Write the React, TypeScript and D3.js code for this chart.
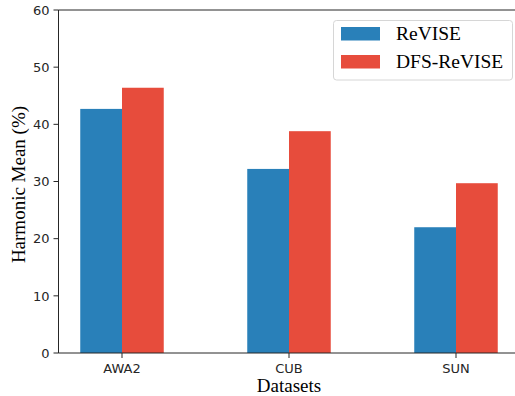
import React from "react";
import * as d3 from "d3";

const categories = ["AWA2", "CUB", "SUN"];
const seriesNames = ["ReVISE", "DFS-ReVISE"];
const revise = [42.7, 32.2, 22.0];
const dfsRevise = [46.4, 38.8, 29.7];
const yTicks = [0, 10, 20, 30, 40, 50, 60];
const colors = ["#2980b9", "#e74c3c"];

const W = 515;
const H = 396;
const left = 58.5;
const top = 10;
const bottom = 353;
const right = 518;

export default function App() {
  const x = d3.scaleLinear().domain([0, 2]).range([122, 456]);
  const y = d3.scaleLinear().domain([0, 60]).range([bottom, top]);
  const barW = x(0.25) - x(0);
  const series = [revise, dfsRevise];
  const sans = "DejaVu Sans, sans-serif";
  const serif = "Liberation Serif, Times New Roman, serif";
  const axisColor = "#262626";

  return (
    <svg width={W} height={H} style={{ position: "absolute", left: 0, top: 0 }}>
      <rect width={W} height={H} fill="#fff" />
      {series.map((vals, si) =>
        vals.map((v, ci) => (
          <rect
            key={`${si}-${ci}`}
            x={si === 0 ? x(ci) - barW : x(ci)}
            y={y(v)}
            width={barW}
            height={y(0) - y(v)}
            fill={colors[si]}
          />
        ))
      )}
      {/* spines */}
      <line x1={left} x2={left} y1={top} y2={bottom} stroke={axisColor} strokeWidth={1} />
      <line x1={left} x2={right} y1={bottom} y2={bottom} stroke={axisColor} strokeWidth={1} />
      <line x1={left} x2={right} y1={top} y2={top} stroke={axisColor} strokeWidth={1} />
      {/* y ticks */}
      {yTicks.map((t) => (
        <g key={t}>
          <line x1={left - 5} x2={left} y1={y(t)} y2={y(t)} stroke={axisColor} />
          <text
            x={left - 9}
            y={y(t)}
            dy="0.36em"
            textAnchor="end"
            fontFamily={sans}
            fontSize={13}
            fill={axisColor}
          >
            {t}
          </text>
        </g>
      ))}
      {/* x ticks */}
      {categories.map((c, i) => (
        <g key={c}>
          <line x1={x(i)} x2={x(i)} y1={bottom} y2={bottom + 5} stroke={axisColor} />
          <text
            x={x(i)}
            y={372.5}
            textAnchor="middle"
            fontFamily={sans}
            fontSize={13}
            fill={axisColor}
          >
            {c}
          </text>
        </g>
      ))}
      <text x={x(1)} y={392} textAnchor="middle" fontFamily={serif} fontSize={19} fill="#000">
        Datasets
      </text>
      <text
        transform={`translate(25, ${(top + bottom) / 2 + 3}) rotate(-90)`}
        textAnchor="middle"
        fontFamily={serif}
        fontSize={19}
        fill="#000"
      >
        Harmonic Mean (%)
      </text>
      {/* legend */}
      <rect x={333.5} y={20.5} width={179} height={59.5} rx={3} fill="#fff" stroke="#d6d6d6" strokeWidth={1} />
      {seriesNames.map((n, i) => (
        <g key={n}>
          <rect x={341} y={27 + i * 28} width={39} height={13.5} fill={colors[i]} />
          <text x={396} y={40 + i * 28} fontFamily={serif} fontSize={19.5} fill="#000">
            {n}
          </text>
        </g>
      ))}
    </svg>
  );
}
